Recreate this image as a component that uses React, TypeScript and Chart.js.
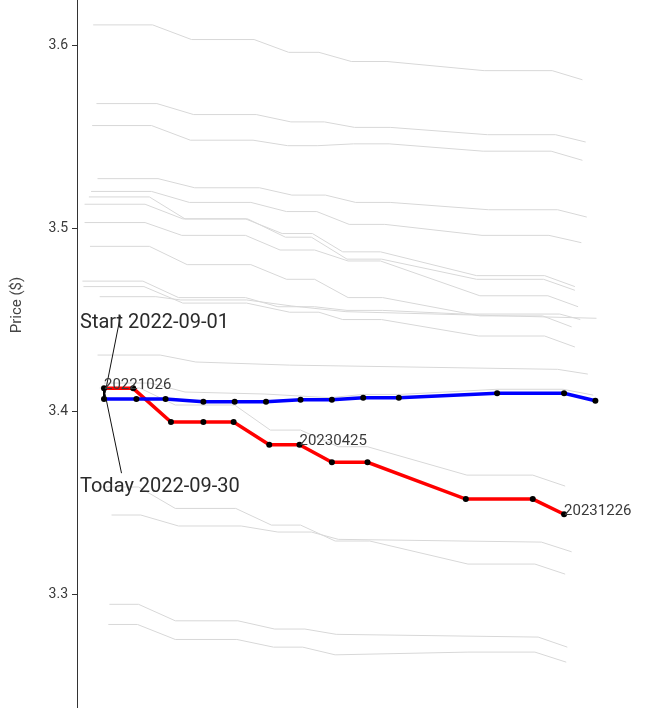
import React, { useEffect, useRef } from "react";
import { Chart, registerables } from "chart.js";

Chart.register(...registerables);

// x values: days after 2022-10-26 (first contract expiry); y values: price in $
const redDays = [0, 27, 62, 92, 120, 153, 181, 211, 244, 335, 397, 426];
const redPrices = [3.4124, 3.4124, 3.394, 3.394, 3.394, 3.3816, 3.3816, 3.372, 3.372, 3.3519, 3.3519, 3.3436];

const blueDays = [0, 30, 57, 92, 121, 150, 182, 211, 240, 273, 364, 426, 455];
const bluePrices = [3.4066, 3.4066, 3.4066, 3.4051, 3.4051, 3.4051, 3.4062, 3.4062, 3.4073, 3.4073, 3.4097, 3.4097, 3.4056];

const redLabelIndex = [0, 6, 11];
const redLabelText = ["20221026", "20230425", "20231226"];

const yTicks = [3.3, 3.4, 3.5, 3.6];
const yTitle = "Price ($)";
const startLabel = "Start 2022-09-01";
const todayLabel = "Today 2022-09-30";

// historical curves (grey)
const gray01Days = [-10, 45, 81, 139, 171, 199, 229, 262, 352, 415, 443];
const gray01Prices = [3.611, 3.611, 3.603, 3.603, 3.596, 3.596, 3.591, 3.591, 3.586, 3.586, 3.581];
const gray02Days = [-7, 49, 83, 141, 173, 204, 232, 265, 355, 418, 446];
const gray02Prices = [3.568, 3.568, 3.562, 3.562, 3.558, 3.558, 3.555, 3.555, 3.551, 3.551, 3.547];
const gray03Days = [-11, 44, 80, 138, 170, 198, 231, 264, 351, 414, 443];
const gray03Prices = [3.556, 3.556, 3.548, 3.548, 3.545, 3.545, 3.546, 3.546, 3.542, 3.542, 3.537];
const gray04Days = [-6, 50, 84, 144, 174, 205, 233, 265, 356, 420, 447];
const gray04Prices = [3.527, 3.527, 3.522, 3.522, 3.518, 3.518, 3.514, 3.514, 3.51, 3.51, 3.506];
const gray05Days = [-12, 44, 79, 136, 169, 197, 227, 260, 350, 412, 442];
const gray05Prices = [3.52, 3.52, 3.514, 3.514, 3.509, 3.509, 3.502, 3.502, 3.496, 3.496, 3.492];
const gray06Days = [-14, 42, 75, 131, 165, 193, 221, 256, 345, 408, 436];
const gray06Prices = [3.517, 3.517, 3.505, 3.505, 3.497, 3.497, 3.487, 3.487, 3.474, 3.474, 3.468];
const gray07Days = [-18, 38, 73, 133, 168, 192, 225, 257, 345, 407, 436];
const gray07Prices = [3.513, 3.513, 3.505, 3.505, 3.495, 3.495, 3.483, 3.483, 3.472, 3.472, 3.466];
const gray08Days = [-18, 38, 72, 131, 163, 195, 226, 256, 348, 411, 439];
const gray08Prices = [3.503, 3.503, 3.496, 3.496, 3.488, 3.488, 3.482, 3.482, 3.463, 3.463, 3.457];
const gray09Days = [-13, 42, 77, 136, 169, 195, 226, 258, 348, 406, 433];
const gray09Prices = [3.49, 3.49, 3.48, 3.48, 3.472, 3.472, 3.462, 3.462, 3.452, 3.452, 3.446];
const gray10Days = [-20, 36, 69, 131, 161, 195, 225, 258, 333, 422, 441];
const gray10Prices = [3.471, 3.471, 3.462, 3.462, 3.457, 3.457, 3.455, 3.455, 3.453, 3.453, 3.45];
const gray11Days = [-19, 37, 73, 132, 172, 199, 221, 257, 347, 408, 436];
const gray11Prices = [3.468, 3.468, 3.459, 3.459, 3.454, 3.454, 3.45, 3.45, 3.441, 3.441, 3.435];
const gray12Days = [-4, 48, 71, 132, 174, 224, 456];
const gray12Prices = [3.4625, 3.4625, 3.4607, 3.4607, 3.4574, 3.4543, 3.4507];
const gray13Days = [-6, 52, 85, 172, 420, 448];
const gray13Prices = [3.4306, 3.4306, 3.4268, 3.4251, 3.4228, 3.4202];
const gray14Days = [0, 43, 75, 149, 182, 209, 240, 274, 364, 425, 453];
const gray14Prices = [3.4153, 3.4153, 3.4104, 3.4093, 3.4082, 3.4073, 3.4091, 3.4091, 3.4119, 3.4119, 3.4087];
const gray15Days = [-4, 33, 66, 121, 154, 182, 217, 244, 336, 397, 427];
const gray15Prices = [3.4126, 3.4126, 3.4033, 3.4033, 3.3896, 3.3896, 3.3805, 3.3805, 3.365, 3.365, 3.359];
const gray16Days = [-4, 32, 66, 122, 155, 182, 214, 246, 337, 399, 427];
const gray16Prices = [3.3585, 3.3585, 3.3468, 3.3468, 3.3377, 3.3377, 3.329, 3.329, 3.3164, 3.3164, 3.3109];
const gray17Days = [7, 34, 69, 127, 161, 192, 217, 405, 433];
const gray17Prices = [3.3432, 3.3432, 3.3372, 3.3372, 3.3339, 3.3339, 3.3299, 3.3284, 3.3231];
const gray18Days = [5, 32, 66, 124, 158, 186, 215, 402, 429];
const gray18Prices = [3.2944, 3.2944, 3.2854, 3.2854, 3.2809, 3.2809, 3.278, 3.2765, 3.271];
const gray19Days = [4, 31, 66, 123, 157, 184, 214, 337, 399, 428];
const gray19Prices = [3.2834, 3.2834, 3.2752, 3.2752, 3.271, 3.271, 3.2668, 3.2683, 3.2683, 3.2628];

const grayDays = [gray01Days, gray02Days, gray03Days, gray04Days, gray05Days, gray06Days, gray07Days, gray08Days, gray09Days, gray10Days, gray11Days, gray12Days, gray13Days, gray14Days, gray15Days, gray16Days, gray17Days, gray18Days, gray19Days];
const grayPrices = [gray01Prices, gray02Prices, gray03Prices, gray04Prices, gray05Prices, gray06Prices, gray07Prices, gray08Prices, gray09Prices, gray10Prices, gray11Prices, gray12Prices, gray13Prices, gray14Prices, gray15Prices, gray16Prices, gray17Prices, gray18Prices, gray19Prices];

const FONT = "Roboto";

const toPoints = (xs: number[], ys: number[]) => xs.map((x, i) => ({ x, y: ys[i] }));

const annotPlugin = {
  id: "annot",
  afterDatasetsDraw(chart: any) {
    const { ctx } = chart;
    const xs = chart.scales.x;
    const ys = chart.scales.y;
    ctx.save();
    // bar joining first red and first blue point
    const px = xs.getPixelForValue(redDays[0]);
    const pr = ys.getPixelForValue(redPrices[0]);
    const pb = ys.getPixelForValue(bluePrices[0]);
    ctx.strokeStyle = "#000";
    ctx.lineWidth = 2;
    ctx.beginPath();
    ctx.moveTo(px, pr);
    ctx.lineTo(px, pb);
    ctx.stroke();
    ctx.lineWidth = 1;
    ctx.beginPath();
    ctx.moveTo(px - 1.5, pr);
    ctx.lineTo(px + 1.5, pr);
    ctx.moveTo(px - 1.5, pb);
    ctx.lineTo(px + 1.5, pb);
    ctx.stroke();

    const mx = px + 1;
    const my = (pr + pb) / 2;
    // leader lines
    ctx.strokeStyle = "#111";
    ctx.lineWidth = 1;
    ctx.beginPath();
    ctx.moveTo(mx, my);
    ctx.lineTo(px + 16.5, my - 78);
    ctx.moveTo(mx, my);
    ctx.lineTo(px + 17.5, my + 79.5);
    ctx.stroke();

    ctx.fillStyle = "#2b2b2b";
    ctx.textAlign = "left";
    ctx.textBaseline = "alphabetic";
    ctx.font = `400 20px ${FONT}`;
    ctx.fillText(startLabel, px - 24, my - 65.5);
    ctx.fillText(todayLabel, px - 24, my + 98.5);

    // point labels
    ctx.fillStyle = "#3a3a3a";
    ctx.font = `400 15px ${FONT}`;
    redLabelIndex.forEach((idx, k) => {
      const lx = xs.getPixelForValue(redDays[idx]);
      const ly = ys.getPixelForValue(redPrices[idx]);
      ctx.fillText(redLabelText[k], lx, ly + 0.5);
    });

    // y axis title
    ctx.save();
    ctx.translate(21, 305);
    ctx.rotate(-Math.PI / 2);
    ctx.textAlign = "center";
    ctx.fillStyle = "#444";
    ctx.font = `400 15px ${FONT}`;
    ctx.fillText(yTitle, 0, 0);
    ctx.restore();
    ctx.restore();
  },
};

export default function App() {
  const ref = useRef<HTMLCanvasElement | null>(null);
  useEffect(() => {
    document.body.style.margin = "0";
    if (!ref.current) return;
    const grayDatasets = grayDays.map((d, i) => ({
      data: toPoints(d, grayPrices[i]),
      borderColor: "#d8d8d8",
      borderWidth: 1,
      pointRadius: 0,
      tension: 0,
      fill: false,
    }));
    const chart = new Chart(ref.current, {
      type: "line",
      data: {
        datasets: [
          {
            data: toPoints(blueDays, bluePrices),
            borderColor: "#0000ff",
            borderWidth: 3.5,
            pointRadius: 3,
            pointBackgroundColor: "#000",
            pointBorderWidth: 0,
            tension: 0,
            fill: false,
          },
          {
            data: toPoints(redDays, redPrices),
            borderColor: "#ff0000",
            borderWidth: 3.5,
            pointRadius: 3,
            pointBackgroundColor: "#000",
            pointBorderWidth: 0,
            tension: 0,
            fill: false,
          },
          ...grayDatasets,
        ] as any,
      },
      options: {
        animation: false,
        responsive: true,
        maintainAspectRatio: false,
        events: [],
        layout: { autoPadding: false, padding: { left: 0, right: 2, top: 0, bottom: 2 } },
        plugins: { legend: { display: false }, tooltip: { enabled: false } },
        scales: {
          x: { type: "linear", min: -25, max: 500, display: false },
          y: {
            type: "linear",
            min: 3.2383,
            max: 3.6246,
            afterFit: (s: any) => {
              s.width = 77;
              s.paddingTop = 0;
              s.paddingBottom = 0;
            },
            afterBuildTicks: (s: any) => {
              s.ticks = yTicks.map((v) => ({ value: v }));
            },
            ticks: {
              color: "#3a3a3a",
              font: { family: FONT, size: 14, weight: 400 as any },
              padding: 4,
              callback: (v: any) => Number(v).toFixed(1),
            },
            grid: { drawOnChartArea: false, drawTicks: true, tickLength: 5, color: "#333" },
            border: { display: true, color: "#333", width: 1 },
          },
        },
      } as any,
      plugins: [annotPlugin],
    });
    return () => chart.destroy();
  }, []);
  return (
    <div style={{ width: "646px", height: "709px", position: "relative" }}>
      <canvas ref={ref} />
    </div>
  );
}
